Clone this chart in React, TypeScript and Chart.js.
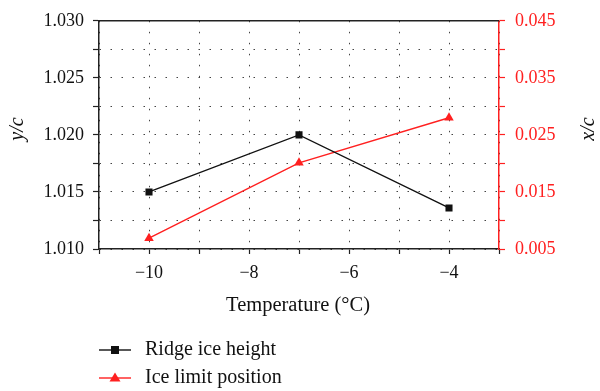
import React, { useEffect, useRef } from "react";
import { Chart, registerables } from "chart.js";

Chart.register(...registerables);

const temperatures = [-10, -7, -4];
const ridgeIceHeight = [1.015, 1.02, 1.0136];
const iceLimitPosition = [0.0069, 0.0201, 0.028];
const seriesNames = ["Ridge ice height", "Ice limit position"];
const xTitle = "Temperature (°C)";
const yLeftTitle = "y/c";
const yRightTitle = "x/c";

const FONT = "'Liberation Serif', 'DejaVu Serif', serif";
const RED = "#ff2020";
const BLACK = "#111111";

const fmtMinus = (v: number) => (v < 0 ? "\u2212" + Math.abs(v) : String(v));

export default function App() {
  const ref = useRef<HTMLCanvasElement | null>(null);

  useEffect(() => {
    if (!ref.current) return;

    const overlay = {
      id: "overlay",
      afterDraw(chart: any) {
        const { ctx, chartArea } = chart;
        ctx.save();
        // top border
        ctx.strokeStyle = "#222";
        ctx.lineWidth = 1.5;
        ctx.beginPath();
        ctx.moveTo(chartArea.left, chartArea.top);
        ctx.lineTo(chartArea.right, chartArea.top);
        ctx.stroke();

        // x title
        ctx.fillStyle = "#111";
        ctx.font = `20.5px ${FONT}`;
        ctx.textAlign = "center";
        ctx.textBaseline = "middle";
        ctx.fillText(xTitle, 298, 306);

        // left title
        ctx.save();
        ctx.translate(18, 129);
        ctx.rotate(-Math.PI / 2);
        ctx.font = `italic 20px ${FONT}`;
        ctx.fillText(yLeftTitle, 0, 0);
        ctx.restore();

        // right title
        ctx.save();
        ctx.translate(589, 129);
        ctx.rotate(-Math.PI / 2);
        ctx.font = `italic 20px ${FONT}`;
        ctx.fillText(yRightTitle, 0, 0);
        ctx.restore();

        // legend
        const rows = [
          { y: 350, color: BLACK, marker: "rect", label: seriesNames[0] },
          { y: 378, color: RED, marker: "tri", label: seriesNames[1] },
        ];
        rows.forEach((r) => {
          ctx.strokeStyle = r.color;
          ctx.fillStyle = r.color;
          ctx.lineWidth = 1.4;
          ctx.beginPath();
          ctx.moveTo(99, r.y);
          ctx.lineTo(131, r.y);
          ctx.stroke();
          if (r.marker === "rect") {
            ctx.fillRect(115 - 4, r.y - 4, 8, 8);
          } else {
            ctx.beginPath();
            ctx.moveTo(115, r.y - 5.5);
            ctx.lineTo(120.5, r.y + 3.5);
            ctx.lineTo(109.5, r.y + 3.5);
            ctx.closePath();
            ctx.fill();
          }
          ctx.fillStyle = "#111";
          ctx.textAlign = "left";
          ctx.textBaseline = "middle";
          ctx.font = `20px ${FONT}`;
          ctx.fillText(r.label, 145, r.y);
        });
        ctx.restore();
      },
    };

    const gridStyle = {
      color: "#444",
      lineWidth: 1,
      tickBorderDash: [],
      tickColor: "#222",
      tickWidth: 1.2,
    };

    const chart = new Chart(ref.current, {
      type: "line",
      data: {
        datasets: [
          {
            label: seriesNames[0],
            data: temperatures.map((t, i) => ({ x: t, y: ridgeIceHeight[i] })),
            yAxisID: "y",
            borderColor: BLACK,
            backgroundColor: BLACK,
            borderWidth: 1.4,
            pointStyle: "rect",
            pointRadius: 5,
            pointBorderWidth: 0,
          },
          {
            label: seriesNames[1],
            data: temperatures.map((t, i) => ({ x: t, y: iceLimitPosition[i] })),
            yAxisID: "y1",
            borderColor: RED,
            backgroundColor: RED,
            borderWidth: 1.4,
            pointStyle: "triangle",
            pointRadius: 5.5,
            pointBorderWidth: 0,
          },
        ],
      },
      options: {
        responsive: false,
        animation: false,
        layout: { padding: { top: 11, left: 0, right: 0, bottom: 0 } },
        plugins: { legend: { display: false }, tooltip: { enabled: false } },
        scales: {
          x: {
            type: "linear",
            min: -11,
            max: -3,
            afterFit: (s: any) => {
              s.height = 142;
            },
            ticks: {
              stepSize: 1,
              autoSkip: false,
              maxRotation: 0,
              padding: 8,
              color: "#111",
              font: { family: FONT, size: 18 },
              callback: (v: any) => (Number(v) % 2 === 0 ? fmtMinus(Number(v)) : ""),
            },
            grid: { ...gridStyle, tickLength: 5 },
            border: { display: true, color: "#222", width: 1.5, dash: [1.5, 9.5] },
          },
          y: {
            type: "linear",
            position: "left",
            min: 1.01,
            max: 1.03,
            afterFit: (s: any) => {
              s.width = 99;
            },
            ticks: {
              stepSize: 0.0025,
              autoSkip: false,
              padding: 9,
              color: "#111",
              font: { family: FONT, size: 18 },
              callback: (v: any) => {
                const n = Number(v);
                const k = Math.round(n / 0.005);
                return Math.abs(k * 0.005 - n) < 1e-7 ? n.toFixed(3) : "";
              },
            },
            grid: { ...gridStyle, tickLength: 6 },
            border: { display: true, color: "#222", width: 1.5, dash: [1.5, 9.5] },
          },
          y1: {
            type: "linear",
            position: "right",
            min: 0.005,
            max: 0.045,
            afterFit: (s: any) => {
              s.width = 101;
            },
            ticks: {
              stepSize: 0.005,
              autoSkip: false,
              padding: 10,
              color: RED,
              font: { family: FONT, size: 18 },
              callback: (v: any) => {
                const n = Number(v);
                const k = Math.round((n - 0.005) / 0.005);
                return k % 2 === 0 ? n.toFixed(3) : "";
              },
            },
            grid: {
              drawOnChartArea: false,
              color: RED,
              tickColor: RED,
              tickLength: 6,
              tickWidth: 1.2,
            },
            border: { display: true, color: RED, width: 1.5 },
          },
        },
      },
      plugins: [overlay],
    } as any);

    return () => chart.destroy();
  }, []);

  return (
    <div style={{ position: "absolute", left: 0, top: 0, width: 600, height: 391, background: "#fff" }}>
      <canvas ref={ref} width={600} height={391} />
    </div>
  );
}
